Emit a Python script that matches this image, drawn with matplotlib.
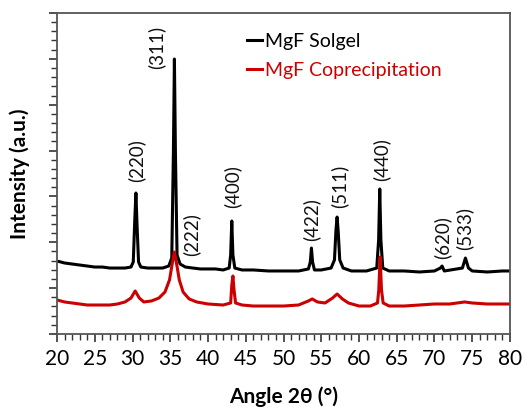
'''
XRD patterns of MgF samples, solgel vs coprecipitation
'''

import matplotlib
matplotlib.use('Agg')
import matplotlib.pyplot as plt
from matplotlib.ticker import MultipleLocator
import numpy as np

plt.rcParams['font.family'] = ['Lato', 'DejaVu Sans']

#=============================================
#   1. data (2theta [deg], intensity [a.u.])

two_theta_solgel = [20.0, 20.5, 21, 22, 23, 24, 25, 26, 27, 28, 29, 29.8, 30.1, 30.3, 30.45, 30.6, 30.8,
                    31.1, 32, 33, 34, 34.8, 35.2, 35.42, 35.55, 35.68, 35.9, 36.3, 37, 38, 39, 40, 41, 42,
                    42.8, 43.0, 43.15, 43.3, 43.55, 44.5, 46, 48, 50, 52, 53.3, 53.55, 53.7, 53.85, 54.1,
                    55, 56.3, 56.75, 56.95, 57.1, 57.25, 57.45, 57.9, 59, 61, 62.35, 62.6, 62.75, 62.9,
                    63.15, 64, 66, 68, 70, 70.8, 71.0, 71.3, 73.7, 74.1, 74.5, 75, 77, 79, 80]
int_solgel = [795, 785, 774, 763, 752, 741, 730, 730, 719, 719, 719, 730, 785, 1243, 1537, 1188, 785,
              730, 719, 719, 719, 741, 828, 2006, 2998, 2006, 861, 763, 730, 719, 709, 709, 709, 698,
              719, 861, 1232, 861, 719, 698, 698, 687, 687, 687, 709, 785, 937, 785, 698,
              698, 719, 807, 1134, 1275, 1112, 807, 719, 687, 687, 719, 1025, 1581, 1025,
              719, 687, 687, 676, 687, 720, 741, 687, 719, 828, 719, 687, 676, 687, 687]

two_theta_copre = [20.0, 21, 22, 23, 24, 25, 26, 27, 28, 29, 29.8, 30.35, 30.9, 31.5, 32.5, 33.5, 34.3,
                   34.9, 35.3, 35.55, 35.8, 36.2, 36.7, 37.5, 38.5, 40, 42, 43.0, 43.15, 43.3, 43.45,
                   43.65, 44.5, 46, 48, 50, 52, 53.3, 53.8, 54.5, 55.5, 56.5, 57.1, 57.8, 58.6, 60, 61.5,
                   62.45, 62.62, 62.8, 62.98, 63.2, 64, 66, 68, 70, 72, 74, 75, 77, 79, 80]
int_copre = [371, 349, 338, 327, 316, 316, 316, 316, 327, 349, 392, 469, 392, 349, 360, 392, 458,
             589, 785, 894, 785, 589, 458, 382, 349, 327, 316, 338, 534, 632, 480,
             338, 316, 305, 305, 305, 316, 360, 382, 349, 338, 392, 436, 382, 338, 305, 305,
             338, 480, 839, 480, 338, 305, 305, 316, 327, 327, 349, 338, 327, 327, 327]

# peak labels: (hkl), label x [deg], label y [a.u.]
hkl = ['(220)', '(311)', '(222)', '(400)', '(422)', '(511)', '(440)', '(620)', '(533)']
hkl_x = [30.45, 33.2, 37.8, 43.25, 53.7, 57.4, 62.9, 71.0, 73.9]
hkl_y = [1886, 3128, 1079, 1602, 1253, 1613, 1897, 1046, 1155]

#=============================================
#   2. plot

fig = plt.figure(figsize=(5.25, 4.07), dpi=100)
ax = fig.add_axes([0.1086, 0.1794, 0.8628, 0.7887])

ax.plot(two_theta_solgel, int_solgel, c='k', lw=2.2, label='MgF Solgel')
ax.plot(two_theta_copre, int_copre, c='#cc0000', lw=2.2, label='MgF Coprecipitation')

for lab, xx, yy in zip(hkl, hkl_x, hkl_y):
    ax.text(xx, yy, lab, rotation=90, ha='center', va='center', fontsize=13.5, color='#111111')

ax.set_xlim([20, 80])
ax.set_ylim([0, 3500])
ax.xaxis.set_major_locator(MultipleLocator(5))
ax.xaxis.set_minor_locator(MultipleLocator(1))
ax.yaxis.set_major_locator(MultipleLocator(500))
ax.yaxis.set_minor_locator(MultipleLocator(100))
ax.set_yticklabels([])
ax.tick_params(which='major', direction='out', length=6, width=1.2, color='#333333', labelsize=15)
ax.tick_params(which='minor', direction='out', length=4, width=1.0, color='#333333')
ax.tick_params(axis='x', pad=5)
for sp in ax.spines.values():
    sp.set_color('#555555')
    sp.set_linewidth(1.3)

ax.set_xlabel('Angle 2\u03b8 (\u00b0)', fontsize=15, fontweight='bold', labelpad=12)
ax.set_ylabel('Intensity (a.u.)', fontsize=15, fontweight='bold', labelpad=10)

leg = ax.legend(loc='upper left', bbox_to_anchor=(0.398, 0.968), frameon=False, fontsize=14,
                handlelength=0.75, handletextpad=0.15, labelspacing=0.62, borderpad=0,
                labelcolor='linecolor')

plt.savefig('out.png', dpi=100)
